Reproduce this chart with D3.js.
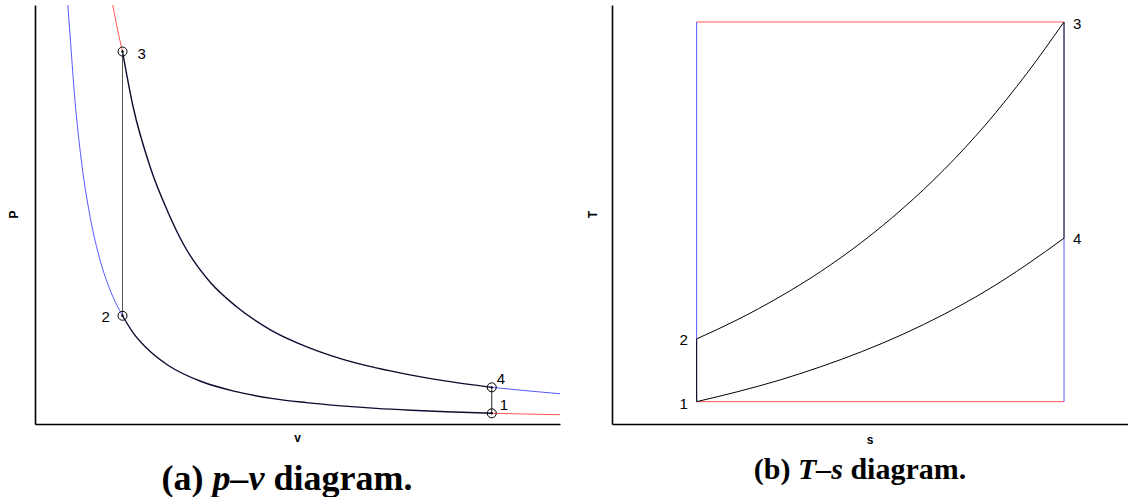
<!DOCTYPE html>
<html>
<head>
<meta charset="utf-8">
<script src="https://cdn.jsdelivr.net/npm/d3@7"></script>
<style>
  html, body { margin: 0; padding: 0; background: #fff; }
  svg { display: block; }
  .num { font-family: "Liberation Sans", Arial, sans-serif; font-size: 15px; fill: #000; }
  .axlab { font-family: "Liberation Sans", Arial, sans-serif; font-size: 12px; font-weight: bold; fill: #000; }
  .cap { font-family: "Liberation Serif", "Times New Roman", serif; font-weight: bold; fill: #000; }
</style>
</head>
<body>
<svg id="chart" width="1128" height="497"></svg>
<script>
// ---- p–v diagram (Otto cycle) ----
const stateNames = ["1", "2", "3", "4"];
const stateV = [5.22, 1.0, 1.0, 5.22];
const stateP = [0.92, 9.3, 32.0, 3.15];

// isentropic compression 2–1
const compV = [1.0, 1.12, 1.32, 1.52, 1.9, 2.3, 2.7, 3.1, 3.5, 3.9, 4.3, 4.7, 5.22];
const compP = [9.3, 7.85, 6.2, 5.05, 3.65, 2.78, 2.2, 1.84, 1.56, 1.34, 1.18, 1.05, 0.92];
// isentropic expansion 3–4
const expV = [1.0, 1.12, 1.32, 1.52, 1.7, 2.0, 2.3, 2.7, 3.1, 3.5, 3.9, 4.3, 4.7, 5.22];
const expP = [32.0, 27.3, 22.0, 18.2, 15.4, 12.2, 10.1, 8.05, 6.65, 5.6, 4.82, 4.2, 3.68, 3.15];
// isentrope through 2, continued to smaller volumes
const isenLowV = [0.375, 0.4, 0.45, 0.53, 0.62, 0.73, 0.85, 1.0];
const isenLowP = [36.0, 33.5, 28.4, 22.6, 18.2, 14.45, 11.67, 9.3];
// isentrope through 4, continued to larger volumes
const isenHighV = [5.22, 5.6, 6.0];
const isenHighP = [3.15, 2.87, 2.6];
// isotherm through 3 (T max)
const isoHotV = [0.889, 0.94, 1.0];
const isoHotP = [36.0, 34.0, 32.0];
// isotherm through 1 (T min)
const isoColdV = [5.22, 5.6, 6.0];
const isoColdP = [0.92, 0.86, 0.80];

// ---- T–s diagram ----
const stateS = [0.205, 0.205, 1.095, 1.095];
const stateT = [300, 581, 2000, 1032];
const heatS = [0.205, 0.305, 0.405, 0.505, 0.605, 0.705, 0.805, 0.905, 1.005, 1.095];
const heatAddT = [581, 668, 768, 882, 1014, 1166, 1340, 1540, 1770, 2000];
const heatRejT = [300, 345, 396, 456, 524, 602, 692, 795, 914, 1032];

const svg = d3.select("#chart");
svg.append("rect").attr("width", 1128).attr("height", 497).attr("fill", "#fff");

const RED = "#ff2a2a", BLUE = "#2f2fff", PROC = "#0c0c30";
const zip = (a, b) => a.map((d, i) => [d, b[i]]);

// ===== left panel =====
const x = d3.scaleLinear().domain([0, 6]).range([35, 560]);
const y = d3.scaleLinear().domain([0, 36]).range([424, 5]);
const gL = svg.append("g");
const pvLine = d3.line().x(d => x(d[0])).y(d => y(d[1])).curve(d3.curveMonotoneX);

function pvPath(vs, ps, color, w, op) {
  gL.append("path").datum(zip(vs, ps)).attr("d", pvLine)
    .attr("fill", "none").attr("stroke", color).attr("stroke-width", w)
    .attr("stroke-opacity", op);
}
pvPath(isenLowV, isenLowP, BLUE, 1, 0.8);
pvPath(isoHotV, isoHotP, RED, 1, 0.8);
pvPath(isenHighV, isenHighP, BLUE, 1, 0.8);
pvPath(isoColdV, isoColdP, RED, 1, 0.8);
pvPath(compV, compP, PROC, 1.4, 1);
pvPath(expV, expP, PROC, 1.4, 1);

// constant-volume processes 2–3 and 4–1
gL.append("line").attr("x1", x(stateV[1])).attr("x2", x(stateV[2]))
  .attr("y1", y(stateP[1])).attr("y2", y(stateP[2]))
  .attr("stroke", "#555").attr("stroke-width", 1);
gL.append("line").attr("x1", x(stateV[3])).attr("x2", x(stateV[0]))
  .attr("y1", y(stateP[3])).attr("y2", y(stateP[0]))
  .attr("stroke", "#222").attr("stroke-width", 1);

// state markers
stateNames.forEach((n, i) => {
  gL.append("circle").attr("cx", x(stateV[i])).attr("cy", y(stateP[i])).attr("r", 4.5)
    .attr("fill", "none").attr("stroke", "#000").attr("stroke-width", 1);
  gL.append("circle").attr("cx", x(stateV[i])).attr("cy", y(stateP[i])).attr("r", 1.2)
    .attr("fill", "#000");
});
const pvLabelOffset = [[8, -9], [-21, 1], [15, 2], [5, -9]];
stateNames.forEach((n, i) => {
  gL.append("text").attr("class", "num")
    .attr("x", x(stateV[i]) + pvLabelOffset[i][0])
    .attr("y", y(stateP[i]) + pvLabelOffset[i][1])
    .attr("dy", "0.35em").text(n);
});

// axes without ticks
gL.append("g").attr("transform", `translate(0,${y(0)})`)
  .call(d3.axisBottom(x).tickValues([]).tickSizeOuter(0))
  .select(".domain").attr("stroke", "#000").attr("stroke-width", 1.6);
gL.append("g").attr("transform", `translate(${x(0)},0)`)
  .call(d3.axisLeft(y).tickValues([]).tickSizeOuter(0))
  .select(".domain").attr("stroke", "#000").attr("stroke-width", 1.6);

gL.append("text").attr("class", "axlab").attr("text-anchor", "middle")
  .attr("transform", `translate(18,${(y(0) + y(36)) / 2}) rotate(-90)`).text("P");
gL.append("text").attr("class", "axlab").attr("text-anchor", "middle")
  .attr("x", (x(0) + x(6)) / 2).attr("y", 442).text("v");

const capA = gL.append("text").attr("class", "cap").attr("text-anchor", "middle")
  .attr("font-size", 36).attr("x", 287).attr("y", 490);
capA.append("tspan").text("(a) ");
capA.append("tspan").attr("font-style", "italic").text("p–v");
capA.append("tspan").text(" diagram.");

// ===== right panel =====
const sx = d3.scaleLinear().domain([0, 1.25]).range([612, 1128]);
const ty = d3.scaleLinear().domain([200, 2076]).range([424, 5]);
const gR = svg.append("g");
const tsLine = d3.line().x(d => sx(d[0])).y(d => ty(d[1])).curve(d3.curveMonotoneX);

function seg(s1, t1, s2, t2, color, w, op) {
  gR.append("line").attr("x1", sx(s1)).attr("y1", ty(t1)).attr("x2", sx(s2)).attr("y2", ty(t2))
    .attr("stroke", color).attr("stroke-width", w).attr("stroke-opacity", op);
}
// isotherms at T max and T min
seg(stateS[2], stateT[2], stateS[1], stateT[2], RED, 1, 0.8);
seg(stateS[0], stateT[0], stateS[3], stateT[0], RED, 1, 0.8);
// isentropes
seg(stateS[1], stateT[1], stateS[1], stateT[2], BLUE, 1, 0.8);
seg(stateS[3], stateT[0], stateS[3], stateT[3], BLUE, 1, 0.8);
// isentropic processes 1–2 and 3–4
seg(stateS[0], stateT[0], stateS[1], stateT[1], PROC, 1.2, 1);
seg(stateS[2], stateT[2], stateS[3], stateT[3], PROC, 1.2, 1);
// constant-volume heat addition 2–3 and rejection 4–1
gR.append("path").datum(zip(heatS, heatAddT)).attr("d", tsLine)
  .attr("fill", "none").attr("stroke", "#000").attr("stroke-width", 1);
gR.append("path").datum(zip(heatS, heatRejT)).attr("d", tsLine)
  .attr("fill", "none").attr("stroke", "#000").attr("stroke-width", 1);

const tsLabelOffset = [[-17, 2], [-17, 1], [9, 2], [9, 1]];
stateNames.forEach((n, i) => {
  gR.append("text").attr("class", "num")
    .attr("x", sx(stateS[i]) + tsLabelOffset[i][0])
    .attr("y", ty(stateT[i]) + tsLabelOffset[i][1])
    .attr("dy", "0.35em").text(n);
});

gR.append("g").attr("transform", `translate(0,${ty(200)})`)
  .call(d3.axisBottom(sx).tickValues([]).tickSizeOuter(0))
  .select(".domain").attr("stroke", "#000").attr("stroke-width", 1.6);
gR.append("g").attr("transform", `translate(${sx(0)},0)`)
  .call(d3.axisLeft(ty).tickValues([]).tickSizeOuter(0))
  .select(".domain").attr("stroke", "#000").attr("stroke-width", 1.6);

gR.append("text").attr("class", "axlab").attr("text-anchor", "middle")
  .attr("transform", `translate(597,${(ty(200) + ty(2076)) / 2}) rotate(-90)`).text("T");
gR.append("text").attr("class", "axlab").attr("text-anchor", "middle")
  .attr("x", (sx(0) + sx(1.25)) / 2).attr("y", 444).text("s");

const capB = gR.append("text").attr("class", "cap").attr("text-anchor", "middle")
  .attr("font-size", 30).attr("x", 860).attr("y", 479);
capB.append("tspan").text("(b) ");
capB.append("tspan").attr("font-style", "italic").text("T–s");
capB.append("tspan").text(" diagram.");
</script>
</body>
</html>
